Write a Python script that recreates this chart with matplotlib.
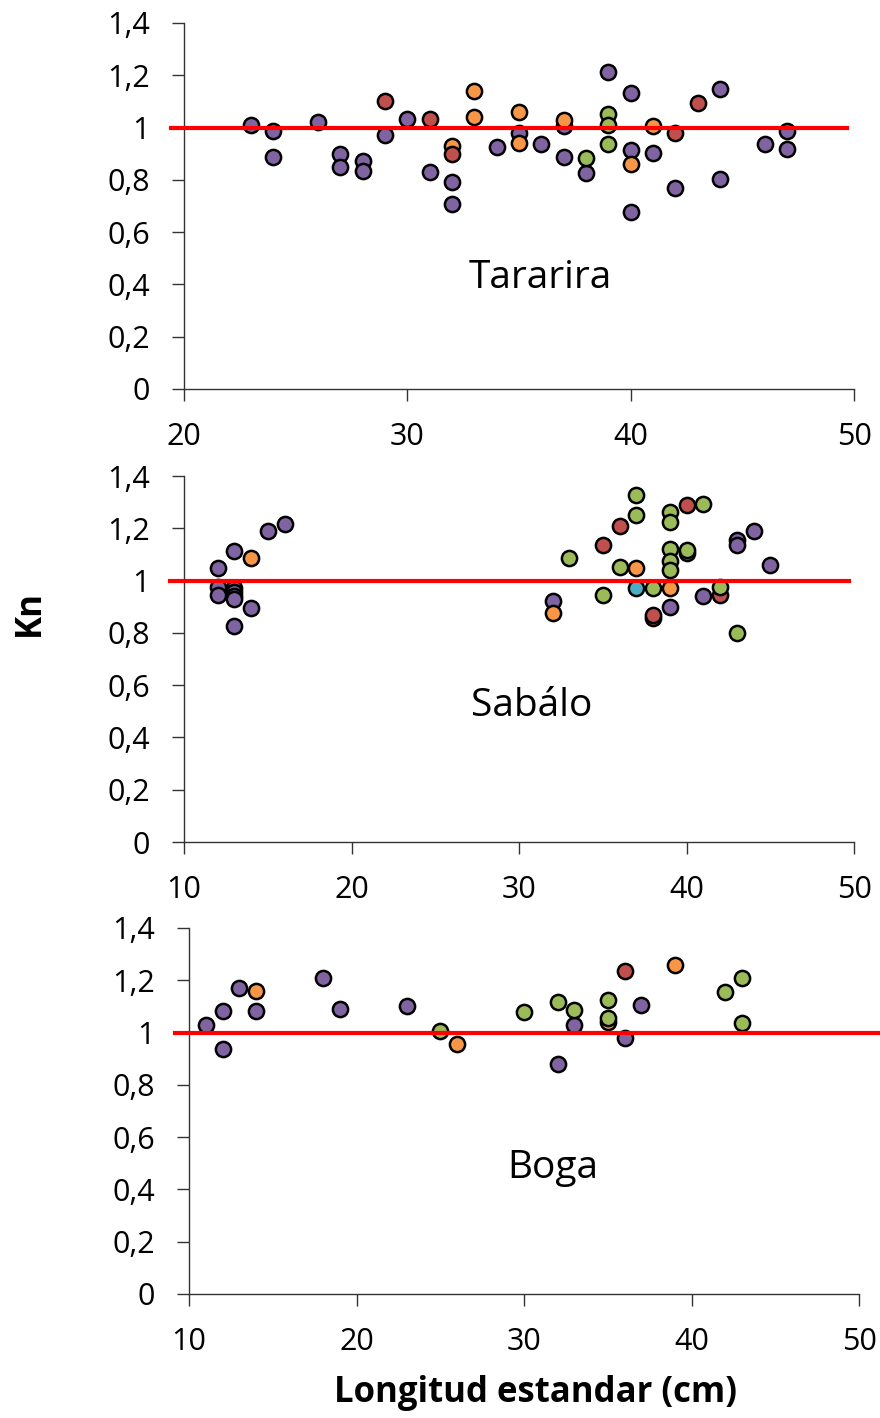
'''
Kn vs longitud estandar, three species panels
'''

import matplotlib
matplotlib.use('Agg')
import matplotlib.pyplot as plt
import numpy as np

#colors (excel palette)
PURPLE = '#8064A2'
ORANGE = '#F79646'
RED = '#C0504D'
GREEN = '#9BBB59'
BLUE = '#4BACC6'
##########

#Tararira data
tar_purple_x = [23, 24, 24, 26, 27, 27, 28, 28, 29, 30, 31, 32, 32, 34, 35, 36, 37, 37, 38, 39, 40, 40, 40, 41, 42, 44, 44, 46, 47, 47]
tar_purple_y = [1.01, 0.987, 0.889, 1.023, 0.899, 0.85, 0.872, 0.835, 0.973, 1.032, 0.831, 0.79, 0.708, 0.927, 0.981, 0.937, 1.004, 0.889, 0.825, 1.211, 1.131, 0.914, 0.676, 0.904, 0.768, 1.149, 0.802, 0.937, 0.987, 0.918]
tar_orange_x = [32, 33, 33, 35, 35, 37, 40, 41]
tar_orange_y = [0.93, 1.14, 1.042, 1.061, 0.942, 1.027, 0.861, 1.006]
tar_red_x = [29, 31, 32, 42, 43]
tar_red_y = [1.102, 1.032, 0.899, 0.978, 1.095]
tar_green_x = [38, 39, 39, 39]
tar_green_y = [0.885, 1.052, 1.01, 0.937]

#Sabalo data
sab_purple_x = [12, 12, 12, 13, 13, 13, 13, 13, 13, 14, 15, 16, 32, 39, 40, 41, 43, 43, 44, 45]
sab_purple_y = [1.048, 0.974, 0.944, 1.113, 0.97, 0.955, 0.94, 0.93, 0.827, 0.894, 1.19, 1.217, 0.922, 0.9, 1.105, 0.941, 1.155, 1.136, 1.191, 1.06]
sab_orange_x = [14, 32, 37, 39]
sab_orange_y = [1.088, 0.877, 1.049, 0.97]
sab_red_x = [35, 36, 38, 38, 40, 42]
sab_red_y = [1.136, 1.21, 0.855, 0.868, 1.289, 0.944]
sab_green_x = [33, 35, 36, 37, 37, 38, 39, 39, 39, 39, 39, 40, 41, 42, 43]
sab_green_y = [1.088, 0.945, 1.053, 1.327, 1.251, 0.97, 1.264, 1.225, 1.121, 1.075, 1.041, 1.117, 1.293, 0.977, 0.801]
sab_blue_x = [37]
sab_blue_y = [0.972]

#Boga data
bog_purple_x = [11, 12, 12, 13, 14, 18, 19, 23, 32, 33, 36, 37]
bog_purple_y = [1.027, 1.083, 0.936, 1.169, 1.083, 1.209, 1.09, 1.102, 0.88, 1.029, 0.978, 1.105]
bog_orange_x = [14, 26, 35, 39]
bog_orange_y = [1.159, 0.955, 1.042, 1.258]
bog_red_x = [36]
bog_red_y = [1.237]
bog_green_x = [25, 30, 32, 33, 35, 35, 42, 43, 43]
bog_green_y = [1.004, 1.078, 1.116, 1.086, 1.125, 1.057, 1.156, 1.207, 1.038]

y_ticks = [0, 0.2, 0.4, 0.6, 0.8, 1.0, 1.2, 1.4]
y_tick_labels = ['0', '0,2', '0,4', '0,6', '0,8', '1', '1,2', '1,4']
KN_REF = 1.0
##########

plt.rcParams['font.family'] = ['Open Sans', 'DejaVu Sans']
AX_COLOR = '#333333'

fig = plt.figure(figsize=(8.8, 14.18), dpi=100)

panels = [
    #rect, xlim, xticks, name, name pos, line span, series
    ([0.2091, 0.7257, 0.7614, 0.2581], (20, 50), [20, 30, 40, 50], 'Tararira', (35.94, 0.425), (19.4, 49.7),
     [(tar_purple_x, tar_purple_y, PURPLE), (tar_orange_x, tar_orange_y, ORANGE),
      (tar_red_x, tar_red_y, RED), (tar_green_x, tar_green_y, GREEN)]),
    ([0.2091, 0.4062, 0.7614, 0.2581], (10, 50), [10, 20, 30, 40, 50], 'Sabálo', (30.78, 0.52), (9.16, 49.7),
     [(sab_purple_x, sab_purple_y, PURPLE), (sab_orange_x, sab_orange_y, ORANGE),
      (sab_red_x, sab_red_y, RED), (sab_green_x, sab_green_y, GREEN), (sab_blue_x, sab_blue_y, BLUE)]),
    ([0.2148, 0.0875, 0.7614, 0.2581], (10, 50), [10, 20, 30, 40, 50], 'Boga', (31.73, 0.482), (9.16, 51.3),
     [(bog_purple_x, bog_purple_y, PURPLE), (bog_orange_x, bog_orange_y, ORANGE),
      (bog_red_x, bog_red_y, RED), (bog_green_x, bog_green_y, GREEN)]),
]

for rect, xlim, xticks, name, name_pos, span, series in panels:
    ax = fig.add_axes(rect)
    for xs, ys, col in series:
        ax.scatter(xs, ys, s=120, color=col, edgecolors='black', linewidths=1.8, zorder=3, clip_on=False)
    ax.plot([span[0], span[1]], [KN_REF, KN_REF], color='#FF0000', lw=3, zorder=4, clip_on=False)
    ax.set_xlim(xlim)
    ax.set_ylim(0, 1.4)
    ax.set_xticks(xticks)
    ax.set_yticks(y_ticks)
    ax.set_yticklabels(y_tick_labels)
    ax.spines['top'].set_visible(False)
    ax.spines['right'].set_visible(False)
    for side in ['left', 'bottom']:
        ax.spines[side].set_color(AX_COLOR)
        ax.spines[side].set_linewidth(1.0)
    ax.tick_params(axis='y', direction='out', length=8.6, width=1.0, color=AX_COLOR, pad=16, labelsize=22)
    ax.tick_params(axis='x', direction='out', length=8.6, width=1.0, color=AX_COLOR, pad=15, labelsize=22)
    ax.text(name_pos[0], name_pos[1], name, fontsize=28, ha='center', va='center')

fig.text(0.034, 0.568, 'Kn', rotation=90, fontsize=25, fontweight='bold', ha='center', va='center')
fig.text(0.608, 0.0175, 'Longitud estandar (cm)', fontsize=25, fontweight='bold', ha='center', va='center')

fig.savefig('out.png', dpi=100)
